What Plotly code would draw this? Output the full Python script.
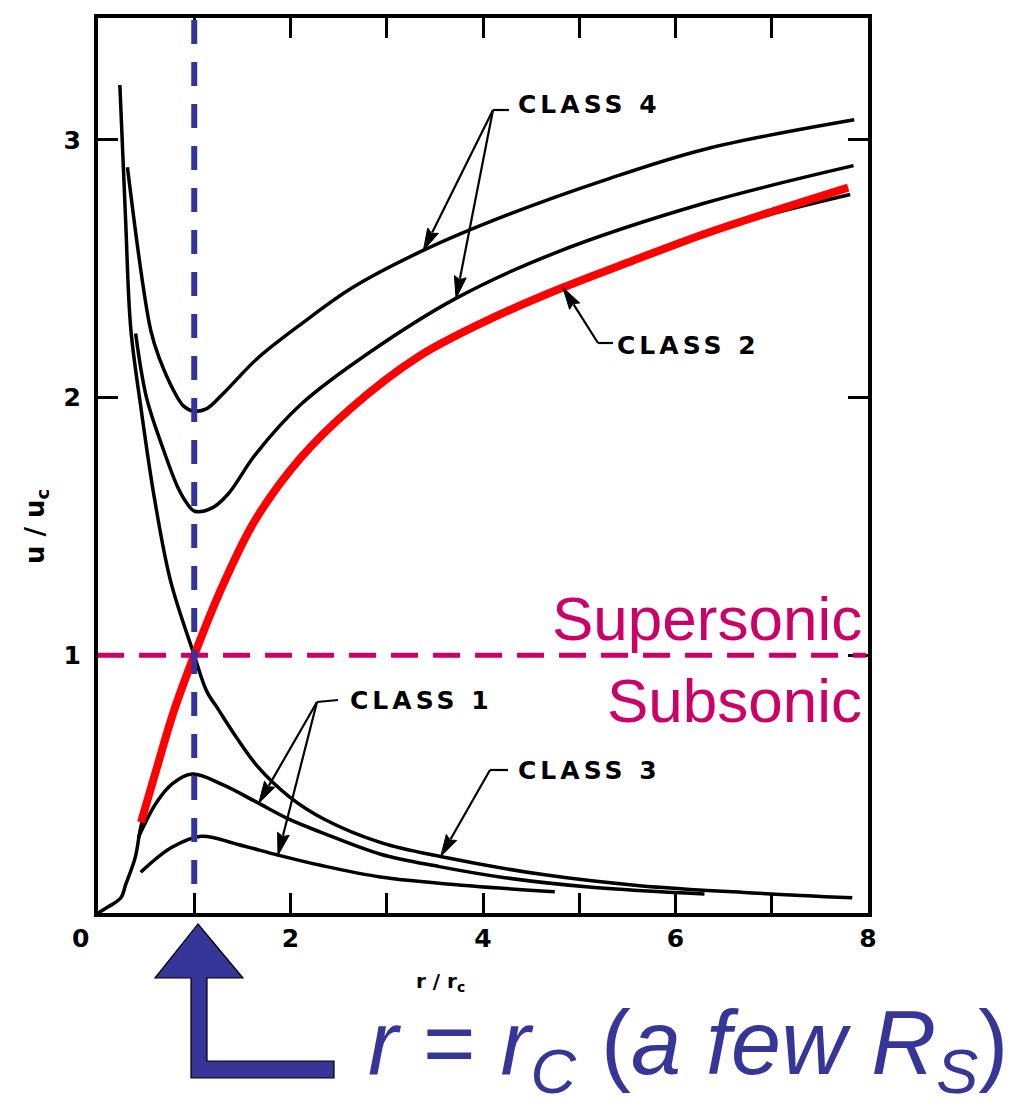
import numpy as np
import plotly.graph_objects as go

# ---------------- data ----------------
# Class 4 (two supersonic branches)
c4_upper_r = [0.306, 0.548, 0.646, 0.786, 0.887, 0.990, 1.125, 1.304, 1.653, 2.127, 2.649, 3.384, 4.219, 5.264, 6.306, 7.857]
c4_upper_u = [2.894, 2.261, 2.144, 2.027, 1.968, 1.948, 1.956, 2.017, 2.151, 2.290, 2.428, 2.572, 2.704, 2.844, 2.964, 3.078]
c4_lower_r = [0.391, 0.504, 0.672, 0.831, 0.922, 1.004, 1.181, 1.350, 1.637, 2.112, 2.816, 3.718, 4.731, 6.297, 7.850]
c4_lower_u = [2.249, 2.000, 1.806, 1.650, 1.591, 1.559, 1.571, 1.625, 1.780, 1.975, 2.174, 2.385, 2.559, 2.754, 2.900]
# Critical solution, decreasing branch (Class 3)
crit_down_r = [0.227, 0.287, 0.340, 0.450, 0.590, 0.753, 1.0, 1.129, 1.250, 1.432, 1.655, 1.992, 2.351, 2.948, 3.558, 4.623, 5.628, 6.799, 7.836]
crit_down_u = [3.213, 2.688, 2.270, 1.950, 1.601, 1.290, 1.0, 0.861, 0.790, 0.685, 0.570, 0.450, 0.364, 0.272, 0.219, 0.149, 0.106, 0.078, 0.059]
# Critical solution, increasing branch (black)
crit_up_r = [0.0, 0.102, 0.236, 0.289, 0.387, 0.444, 0.609, 0.785, 1.0, 1.270, 1.626, 2.103, 2.631, 3.334, 4.098, 4.830, 5.561, 6.292, 7.022, 7.815]
crit_up_u = [0.0, 0.023, 0.058, 0.112, 0.216, 0.332, 0.560, 0.780, 1.0, 1.249, 1.520, 1.765, 1.960, 2.160, 2.309, 2.427, 2.532, 2.634, 2.715, 2.788]
# Class 2 (transonic wind) highlighted in red
class2_r = [0.447, 0.609, 0.785, 1.0, 1.270, 1.626, 2.103, 2.631, 3.334, 4.098, 4.830, 5.561, 6.292, 7.022, 7.794]
class2_u = [0.352, 0.560, 0.780, 1.0, 1.249, 1.520, 1.765, 1.960, 2.160, 2.309, 2.427, 2.532, 2.634, 2.724, 2.815]
# Class 1 (two subsonic branches)
c1_upper_r = [0.419, 0.601, 0.771, 0.980, 1.289, 1.639, 1.978, 2.318, 2.937, 3.546, 4.228, 5.130, 6.301]
c1_upper_u = [0.293, 0.425, 0.501, 0.539, 0.499, 0.432, 0.365, 0.313, 0.228, 0.180, 0.137, 0.100, 0.074]
c1_lower_r = [0.444, 0.759, 1.073, 1.455, 1.868, 2.312, 2.933, 3.886, 4.746]
c1_lower_u = [0.158, 0.253, 0.298, 0.266, 0.225, 0.185, 0.140, 0.105, 0.082]

x_tickvals = [0, 2, 4, 6, 8]
x_ticktext = ["0\u2007\u2007", "2", "4", "6", "8"]
y_tickvals = [1, 2, 3]
y_ticktext = ["1", "2", "3"]

sonic_u = 1.0
critical_r = 1.0

# ---------------- layout geometry (reference pixels) ----------------
OFF = 8                     # default page margin of the html body
W, H = 1036 - 2 * OFF, 1114 - 2 * OFF
LP, RP, TP, BP = 98, 868, 18, 913
X_MAX = 8.0
PX_PER_U = 257.7
Y_MAX = (BP - TP) / PX_PER_U


def d2px(x, y):
    return LP + x * (RP - LP) / X_MAX, BP - y * PX_PER_U


def P(px, py):
    return (px - LP) / (RP - LP), (BP - py) / (BP - TP)


fig = go.Figure()


def add_curve(x, y, color="black", width=3.5):
    fig.add_trace(go.Scatter(x=x, y=y, mode="lines",
                             line=dict(color=color, width=width, shape="spline", smoothing=1.0),
                             hoverinfo="skip", showlegend=False))


add_curve(c4_upper_r, c4_upper_u)
add_curve(c4_lower_r, c4_lower_u)
add_curve(crit_down_r, crit_down_u)
add_curve(crit_up_r, crit_up_u)
add_curve(c1_upper_r, c1_upper_u)
add_curve(c1_lower_r, c1_lower_u)
add_curve(class2_r, class2_u, color="#FF0000", width=8)

shapes = []
# sonic line and critical radius
shapes.append(dict(type="line", xref="x", yref="y", x0=-0.01, x1=7.98, y0=sonic_u, y1=sonic_u,
                   line=dict(color="#CC0066", width=5, dash="27px,15px")))
shapes.append(dict(type="line", xref="x", yref="y", x0=critical_r, x1=critical_r, y0=3.465, y1=0.11,
                   line=dict(color="#333399", width=6, dash="24px,18px")))

# leader lines with arrowheads
curves = {"c4u": (c4_upper_r, c4_upper_u), "c4l": (c4_lower_r, c4_lower_u),
          "cd": (crit_down_r, crit_down_u), "c2": (class2_r, class2_u),
          "c1u": (c1_upper_r, c1_upper_u), "c1l": (c1_lower_r, c1_lower_u)}

leaders = [
    dict(text="CLASS 4", pos=(516, 104), elbow=[(509, 110), (493, 110)], tips=[("c4u", 3.38), ("c4l", 3.72)]),
    dict(text="CLASS 2", pos=(615, 345), elbow=[(613, 343), (598, 343)], tips=[("c2", 4.83)]),
    dict(text="CLASS 1", pos=(348, 700), elbow=[(338, 700), (317, 702)], tips=[("c1u", 1.67), ("c1l", 1.87)]),
    dict(text="CLASS 3", pos=(516, 770), elbow=[(508, 770), (490, 770)], tips=[("cd", 3.56)]),
]

label_font = dict(family="DejaVu Sans", size=25, color="black", weight="bold")
annotations = []
for ld in leaders:
    (ex0, ey0), (ex1, ey1) = ld["elbow"]
    a0, b0 = P(ex0, ey0)
    a1, b1 = P(ex1, ey1)
    shapes.append(dict(type="line", xref="paper", yref="paper", x0=a0, y0=b0, x1=a1, y1=b1,
                       line=dict(color="black", width=2.2)))
    for key, rt in ld["tips"]:
        cx, cy = curves[key]
        ut = float(np.interp(rt, cx, cy))
        tx, ty = d2px(rt, ut)
        dx, dy = tx - ex1, ty - ey1
        n = np.hypot(dx, dy)
        dx, dy = dx / n, dy / n
        hl, hw = 22, 6
        bx, by = tx - hl * dx, ty - hl * dy
        a, b = P(ex1, ey1)
        c, d = P(bx + 2 * dx, by + 2 * dy)
        shapes.append(dict(type="line", xref="paper", yref="paper", x0=a, y0=b, x1=c, y1=d,
                           line=dict(color="black", width=2.2)))
        pts = [(tx, ty), (bx - hw * dy, by + hw * dx), (bx + 3 * dx, by + 3 * dy), (bx + hw * dy, by - hw * dx)]
        path = "M " + " L ".join("%.5f,%.5f" % P(px, py) for px, py in pts) + " Z"
        shapes.append(dict(type="path", xref="paper", yref="paper", path=path,
                           fillcolor="black", line=dict(color="black", width=1)))
    ax_, ay_ = P(*ld["pos"])
    annotations.append(dict(text='<span style="letter-spacing:4px">' + ld["text"] + '</span>',
                            x=ax_, y=ay_, xref="paper", yref="paper",
                            xanchor="left", yanchor="middle", showarrow=False, font=label_font))

# block arrow pointing at r = r_c
arrow_pts = [(198, 924), (243, 978), (207, 978), (207, 1061), (334, 1061), (334, 1078),
             (191, 1078), (191, 978), (155, 978)]
path = "M " + " L ".join("%.5f,%.5f" % P(px, py) for px, py in arrow_pts) + " Z"
shapes.append(dict(type="path", xref="paper", yref="paper", path=path,
                   fillcolor="#363699", line=dict(color="black", width=1.2)))

# texts
sx, sy = P(864, 618)
annotations.append(dict(text="Supersonic", x=sx, y=sy, xref="paper", yref="paper", xanchor="right",
                        yanchor="middle", showarrow=False,
                        font=dict(family="Liberation Sans, Arial", size=62, color="#CC0066")))
sx, sy = P(864, 700)
annotations.append(dict(text="Subsonic", x=sx, y=sy, xref="paper", yref="paper", xanchor="right",
                        yanchor="middle", showarrow=False,
                        font=dict(family="Liberation Sans, Arial", size=62, color="#CC0066")))
sx, sy = P(366, 1049)
annotations.append(dict(text="<i>r</i> = <i>r</i><sub><i>C</i></sub> (<i>a few R</i><sub><i>S</i></sub>)",
                        x=sx, y=sy, xref="paper", yref="paper", xanchor="left", yanchor="middle",
                        showarrow=False,
                        font=dict(family="Liberation Sans, Arial", size=90, color="#363699")))
sx, sy = P(36, 527)
annotations.append(dict(text="u / u<sub>c</sub>", x=sx, y=sy, xref="paper", yref="paper", textangle=-90,
                        xanchor="center", yanchor="middle", showarrow=False,
                        font=dict(family="DejaVu Sans", size=26, color="black", weight="bold")))
sx, sy = P(440, 982)
annotations.append(dict(text="r / r<sub>c</sub>", x=sx, y=sy, xref="paper", yref="paper",
                        xanchor="center", yanchor="middle", showarrow=False,
                        font=dict(family="DejaVu Sans", size=20, color="black", weight="bold")))

fig.update_layout(width=W, height=H,
                  margin=dict(l=LP - OFF, r=W - (RP - OFF), t=TP - OFF, b=H - (BP - OFF), autoexpand=False),
                  paper_bgcolor="white", plot_bgcolor="white", showlegend=False,
                  shapes=shapes, annotations=annotations)
tickfont = dict(family="DejaVu Sans", size=25, color="black", weight="bold")
fig.update_xaxes(range=[0, X_MAX], tickvals=x_tickvals, ticktext=x_ticktext, ticks="inside", ticklen=20,
                 tickwidth=2.5, tickcolor="black", showline=True, linewidth=4, linecolor="black",
                 mirror="ticks", showgrid=False, zeroline=False, tickfont=tickfont, ticklabelstandoff=0,
                 minor=dict(dtick=1, ticks="inside", ticklen=20, tickwidth=2.5, tickcolor="black"))
fig.update_yaxes(range=[0, Y_MAX], tickvals=y_tickvals, ticktext=y_ticktext, ticks="inside", ticklen=20,
                 tickwidth=2.5, tickcolor="black", showline=True, linewidth=4, linecolor="black",
                 mirror="ticks", showgrid=False, zeroline=False, tickfont=tickfont, ticklabelstandoff=8)

fig.write_html("out.html")
